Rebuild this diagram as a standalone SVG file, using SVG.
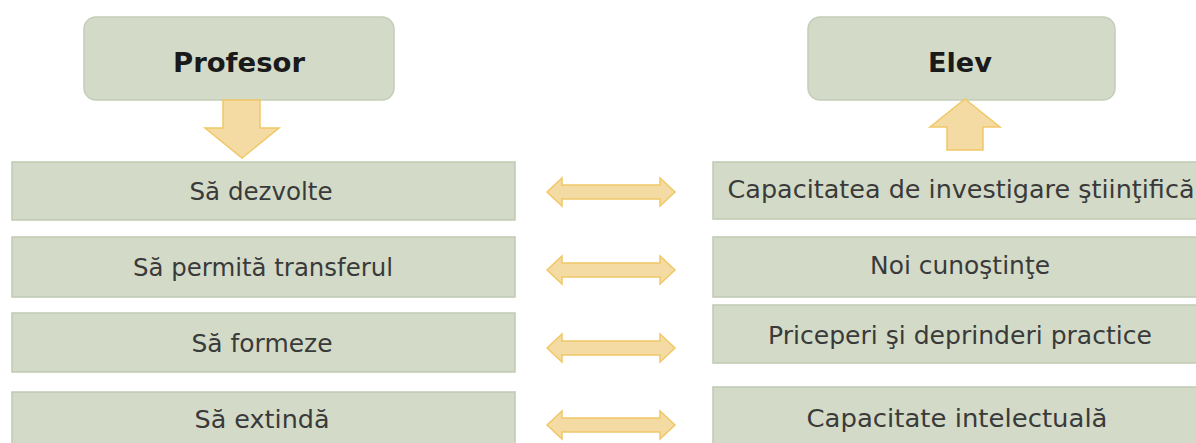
<svg xmlns="http://www.w3.org/2000/svg" width="1196" height="443" viewBox="0 0 1196 443">
<defs>
<style>
.box{fill:#d3dbc8;stroke:#bfc9b2;stroke-width:1.5}
.hdr{fill:#d3dbc8;stroke:#c4cdb8;stroke-width:1.5}
.arr{fill:#f4dba3;stroke:#f0c866;stroke-width:1.5}
.t{font-family:"DejaVu Sans","Liberation Sans",sans-serif;font-size:24px;fill:#3a3a3a;text-anchor:middle}
.h{font-family:"DejaVu Sans","Liberation Sans",sans-serif;font-size:27px;font-weight:bold;fill:#1a1a1a;text-anchor:middle}
</style>
</defs>
<rect width="1196" height="443" fill="#ffffff"/>
<g id="profesor"><rect class="hdr" x="84" y="17" width="310" height="83" rx="12"/><text class="h" x="239" y="72" textLength="132" lengthAdjust="spacingAndGlyphs">Profesor</text></g>
<g id="elev"><rect class="hdr" x="808" y="17" width="307" height="83" rx="12"/><text class="h" x="960" y="72" textLength="64" lengthAdjust="spacingAndGlyphs">Elev</text></g>
<g id="l1"><rect class="box" x="12" y="162" width="503" height="58"/><text class="t" x="261" y="200" textLength="143" lengthAdjust="spacingAndGlyphs">Să dezvolte</text></g>
<g id="l2"><rect class="box" x="12" y="237" width="503" height="60"/><text class="t" x="263" y="276" textLength="260" lengthAdjust="spacingAndGlyphs">Să permită transferul</text></g>
<g id="l3"><rect class="box" x="12" y="313" width="503" height="59"/><text class="t" x="262" y="352" textLength="141" lengthAdjust="spacingAndGlyphs">Să formeze</text></g>
<g id="l4"><rect class="box" x="12" y="392" width="503" height="60"/><text class="t" x="262" y="428" textLength="135" lengthAdjust="spacingAndGlyphs">Să extindă</text></g>
<g id="r1"><rect class="box" x="713" y="162" width="494" height="57"/><text class="t" x="961" y="198" textLength="467" lengthAdjust="spacingAndGlyphs">Capacitatea de investigare ştiinţifică</text></g>
<g id="r2"><rect class="box" x="713" y="237" width="494" height="60"/><text class="t" x="960" y="274" textLength="180" lengthAdjust="spacingAndGlyphs">Noi cunoştinţe</text></g>
<g id="r3"><rect class="box" x="713" y="305" width="494" height="58"/><text class="t" x="960" y="344" textLength="384" lengthAdjust="spacingAndGlyphs">Priceperi şi deprinderi practice</text></g>
<g id="r4"><rect class="box" x="713" y="387" width="494" height="60"/><text class="t" x="957" y="427" textLength="301" lengthAdjust="spacingAndGlyphs">Capacitate intelectuală</text></g>
<g id="connectors">
<polygon class="arr" points="223,100 260,100 260,128 279,128 242,158 205,128 223,128"/>
<polygon class="arr" points="965,99 1000,127 983,127 983,150 947,150 947,127 930,127"/>
<polygon class="arr" points="547,192 562,178 562,185 660,185 660,178 675,192 660,206 660,199 562,199 562,206"/>
<polygon class="arr" points="547,270 562,256 562,263 660,263 660,256 675,270 660,284 660,277 562,277 562,284"/>
<polygon class="arr" points="547,348 562,334 562,341 660,341 660,334 675,348 660,362 660,355 562,355 562,362"/>
<polygon class="arr" points="547,425 562,411 562,418 660,418 660,411 675,425 660,439 660,432 562,432 562,439"/>
</g>
</svg>
